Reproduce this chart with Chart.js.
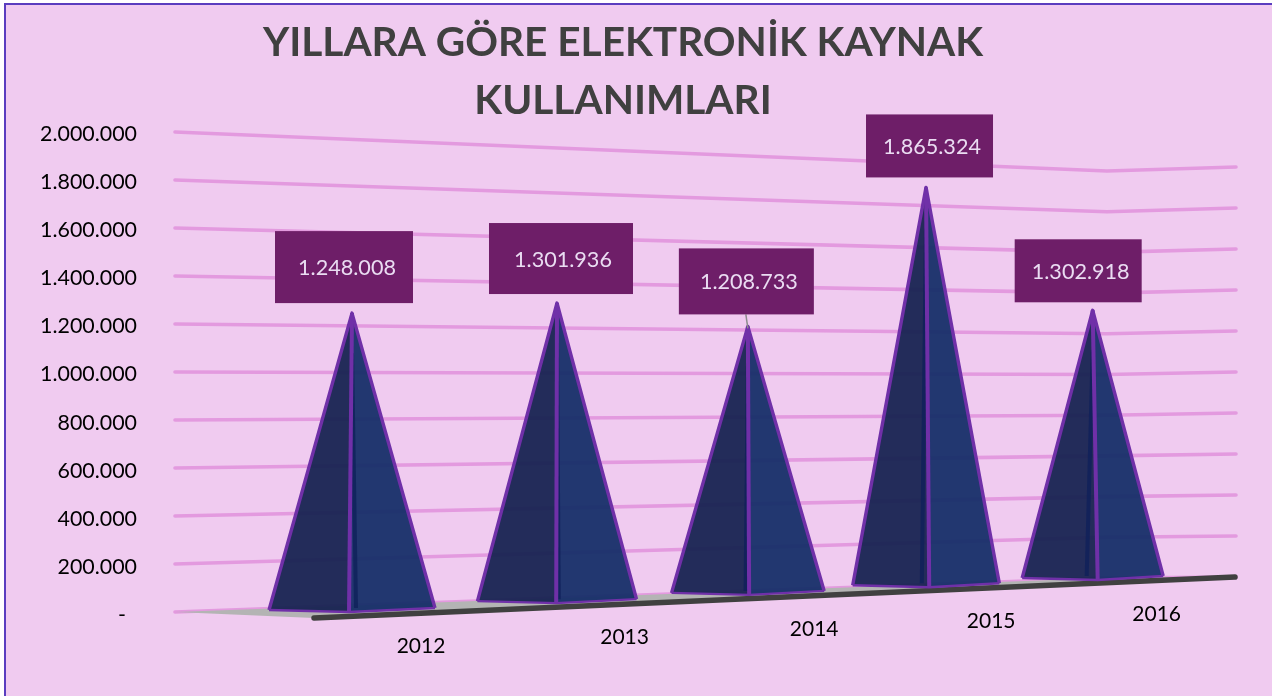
<!DOCTYPE html>
<html lang="tr">
<head>
<meta charset="utf-8">
<title>Yıllara Göre Elektronik Kaynak Kullanımları</title>
<style>html,body{margin:0;padding:0;background:#fff}canvas{display:block}</style>
<script src="https://cdn.jsdelivr.net/npm/chart.js@4"></script>
</head>
<body>
<canvas id="c" width="1272" height="696"></canvas>
<script>
const categories = ['2012', '2013', '2014', '2015', '2016'];
const usageValues = [1248008, 1301936, 1208733, 1865324, 1302918];
const valueLabels = ['1.248.008', '1.301.936', '1.208.733', '1.865.324', '1.302.918'];
const yTickLabels = ['-  ', '200.000', '400.000', '600.000', '800.000', '1.000.000', '1.200.000', '1.400.000', '1.600.000', '1.800.000', '2.000.000'];
const titleLines = ['YILLARA GÖRE ELEKTRONİK KAYNAK', 'KULLANIMLARI'];

// label-box placement, per category, relative to the pyramid's apex
const boxLayout = [
  {dx: -77, w: 138, h: 72, gap: 10, tx: -5},
  {dx: -68, w: 144, h: 71, gap: 9,  tx: 6},
  {dx: -69, w: 135, h: 66, gap: 12, tx: 1},
  {dx: -60, w: 127, h: 63, gap: 10, tx: 6},
  {dx: -78, w: 127, h: 63, gap: 8,  tx: -12}
];

// Perspective of the 3-D view
const X0 = 352, XSPAN = 741;
const lerpX = (x, a, b) => a + (b - a) * (x - X0) / XSPAN;
const project = px => { const t = (px - 281.2) / 212.4; return (225.6 * t + 352) / (1 + 0.037 * t); };
const baseY = x => lerpX(x, 612, 580);
const wallH = x => lerpX(x, 479, 414);
const halfW = x => lerpX(x, 83, 70.5);
const frontDx = x => lerpX(x, -3, 5);

const perspective = {
  id: 'perspective',
  beforeDraw(chart) {
    const {ctx, width, height} = chart;
    ctx.save();
    ctx.fillStyle = '#ffffff';
    ctx.fillRect(0, 0, width, height);
    ctx.fillStyle = '#F0CBF0';
    ctx.fillRect(5, 4, width, height);
    ctx.strokeStyle = '#5A3DBF';
    ctx.lineWidth = 2;
    ctx.beginPath();
    ctx.moveTo(5, height); ctx.lineTo(5, 4); ctx.lineTo(width, 4);
    ctx.stroke();
    ctx.restore();
  },
  beforeDatasetsDraw(chart) {
    const {ctx, chartArea: a, scales: {y}} = chart;
    const full = y.bottom - y.top;
    const kinkX = 1107;
    ctx.save();
    // slanted wall gridlines, one per y tick
    ctx.strokeStyle = '#E39ADF';
    ctx.lineWidth = 3.6;
    ctx.lineCap = 'round';
    ctx.lineJoin = 'round';
    y.ticks.forEach(t => {
      const f = (y.bottom - y.getPixelForValue(t.value)) / full;
      ctx.beginPath();
      ctx.moveTo(a.left, 612 - 480 * f);
      ctx.lineTo(kinkX, 578 - 407 * f);
      ctx.lineTo(a.right - 1, 577 - 410 * f);
      ctx.stroke();
    });
    // floor
    ctx.fillStyle = '#B4B4B4';
    ctx.beginPath();
    ctx.moveTo(a.left, 612);
    ctx.lineTo(kinkX, 578);
    ctx.lineTo(a.right, 577);
    ctx.lineTo(314, 618);
    ctx.closePath();
    ctx.fill();
    ctx.strokeStyle = '#404040';
    ctx.lineWidth = 5.5;
    ctx.beginPath();
    ctx.moveTo(314, 618);
    ctx.lineTo(a.right - 2, 577);
    ctx.stroke();
    ctx.restore();
  },
  afterDatasetsDraw(chart) {
    const {ctx, scales: {y}} = chart;
    const full = y.bottom - y.top;
    const bars = chart.getDatasetMeta(0).data;
    ctx.save();
    bars.forEach((bar, i) => {
      const x = project(bar.x);
      const by = baseY(x);
      const apexY = by - (y.bottom - y.getPixelForValue(usageValues[i])) / full * wallH(x);
      const hw = halfW(x), fd = frontDx(x);
      const L = [x - hw, by - 2], R = [x + hw, by - 4], F = [x + fd, by], A = [x, apexY];
      const tri = (p, q, r, fill) => {
        ctx.fillStyle = fill;
        ctx.beginPath();
        ctx.moveTo(...p); ctx.lineTo(...q); ctx.lineTo(...r);
        ctx.closePath();
        ctx.fill();
      };
      tri(A, L, F, 'rgba(23,35,81,0.95)');
      tri(A, F, R, 'rgba(22,46,104,0.95)');
      // back edge, seen through the faces
      ctx.strokeStyle = 'rgba(15,32,90,0.8)';
      ctx.lineWidth = 4;
      ctx.lineCap = 'butt';
      ctx.beginPath();
      ctx.moveTo(x, apexY + 40);
      ctx.lineTo(x - fd + (fd < 0 ? 1 : -1), by - 4);
      ctx.stroke();
      // outline
      ctx.strokeStyle = '#7030A8';
      ctx.lineJoin = 'round';
      ctx.lineWidth = 3.4;
      ctx.beginPath();
      ctx.moveTo(...L); ctx.lineTo(...A); ctx.lineTo(...R);
      ctx.stroke();
      ctx.lineWidth = 2.4;
      ctx.beginPath();
      ctx.moveTo(...R); ctx.lineTo(...F); ctx.lineTo(...L);
      ctx.stroke();
      ctx.beginPath();
      ctx.moveTo(...A); ctx.lineTo(...F);
      ctx.lineWidth = 4;
      ctx.stroke();

      // value label
      const b = boxLayout[i];
      const boxTop = apexY - b.gap - b.h;
      if (i === 2) {
        ctx.strokeStyle = '#8C8C8C';
        ctx.lineWidth = 1.5;
        ctx.beginPath();
        ctx.moveTo(x - 2, boxTop + b.h);
        ctx.lineTo(x, apexY + 2);
        ctx.stroke();
      }
      ctx.fillStyle = '#6E1E68';
      ctx.fillRect(x + b.dx, boxTop, b.w, b.h);
      ctx.fillStyle = '#EADCF2';
      ctx.font = '21.6px Lato';
      ctx.textAlign = 'center';
      ctx.textBaseline = 'middle';
      ctx.fillText(valueLabels[i], x + b.tx, boxTop + b.h / 2 + 1);

      // category label along the slanted floor edge
      ctx.fillStyle = '#000000';
      ctx.font = '21px Lato';
      ctx.fillText(categories[i], x + lerpX(x, 69, 64), by + 34.5);
    });
    ctx.restore();
  }
};

new Chart(document.getElementById('c'), {
  type: 'bar',
  data: {
    labels: categories,
    datasets: [{label: 'Elektronik kaynak kullanımı', data: usageValues, backgroundColor: 'rgba(0,0,0,0)', borderWidth: 0}]
  },
  plugins: [perspective],
  options: {
    responsive: false,
    animation: false,
    events: [],
    layout: {padding: {left: 9, right: 35, top: 14, bottom: 81}},
    plugins: {
      legend: {display: false},
      tooltip: {enabled: false},
      title: {
        display: true,
        text: titleLines,
        color: '#404040',
        font: {family: 'Lato', size: 40.6, weight: 'bold', lineHeight: 1.424},
        padding: {top: 0, bottom: 4.4}
      }
    },
    scales: {
      x: {display: false, offset: true, grid: {display: false}},
      y: {
        min: 0,
        max: 2000000,
        border: {display: false},
        grid: {display: false, drawTicks: false},
        afterFit(s) { s.width = 166; },
        ticks: {
          stepSize: 200000,
          color: '#000000',
          padding: 38,
          font: {family: 'Lato', size: 21.4},
          callback: (v, i) => yTickLabels[i]
        }
      }
    }
  }
});
</script>
</body>
</html>
